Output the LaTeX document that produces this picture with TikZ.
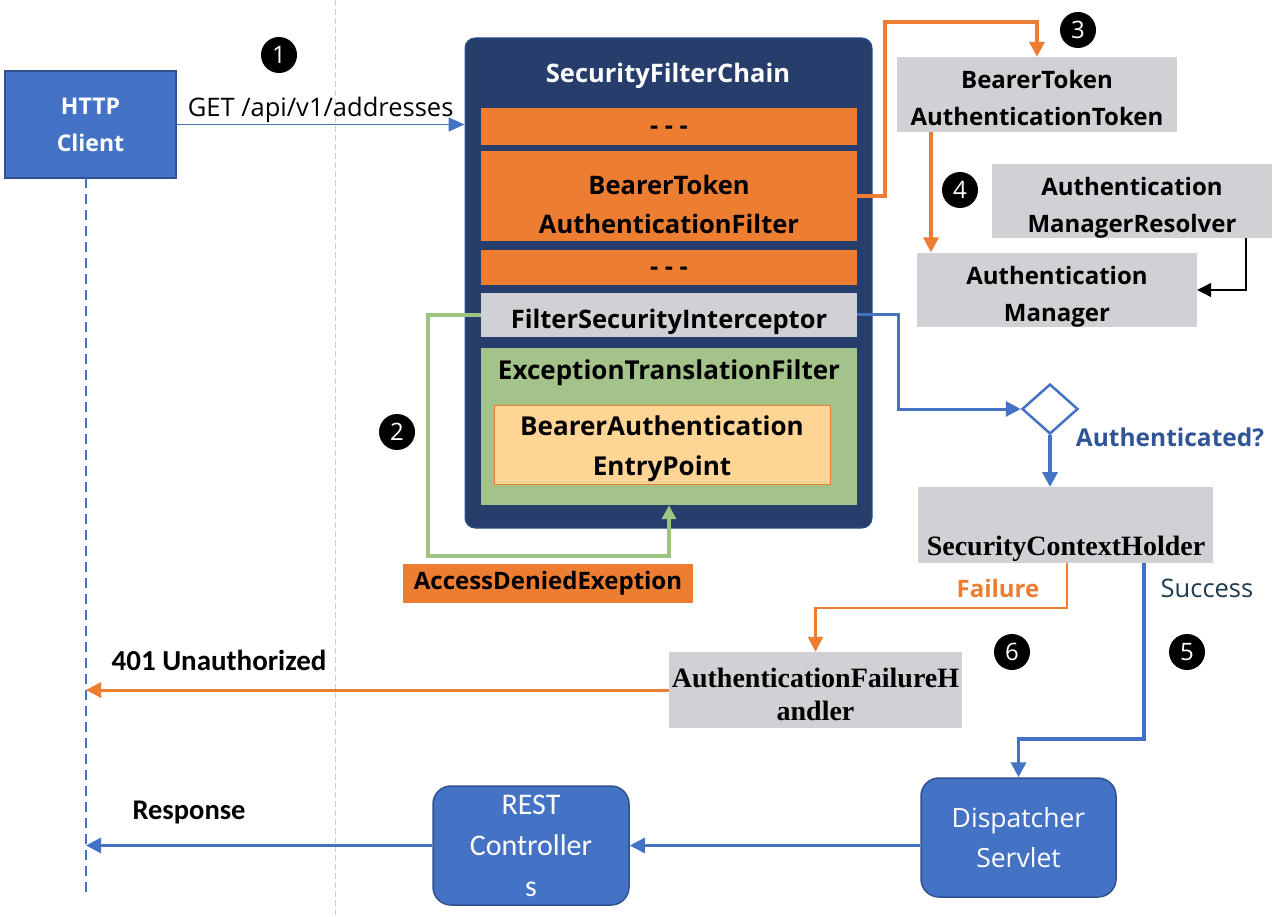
\documentclass[tikz,border=0pt]{standalone}
\usepackage{fontspec}
\setmainfont{Open Sans}
\newfontfamily\serifbold{Liberation Serif}
\newfontfamily\narrowsans{Carlito}
\usetikzlibrary{arrows.meta,shapes.geometric}
\newcommand\setfs[2]{\fontsize{#1}{#2}\selectfont}

\definecolor{clientblue}{HTML}{4472C4}
\definecolor{clientedge}{HTML}{2F528F}
\definecolor{chainnavy}{HTML}{273D6B}
\definecolor{filterorange}{HTML}{ED7D31}
\definecolor{boxgray}{HTML}{D0D0D5}
\definecolor{etfgreen}{HTML}{A3C38B}
\definecolor{loopgreen}{HTML}{9DC483}
\definecolor{entryyellow}{HTML}{FED594}
\definecolor{questionblue}{HTML}{2F5597}
\definecolor{successslate}{HTML}{1F3B4D}
\definecolor{dividergray}{HTML}{CCCCCC}

\tikzset{
    client/.style = {
        draw=clientedge, line width=1.5, fill=clientblue,
        text=white, font=\bfseries\setfs{23}{37},
        align=center, inner sep=0
    },
    servlet/.style = {
        draw=clientedge, line width=1.5, fill=clientblue, rounded corners=18,
        text=white, align=center, inner sep=0
    },
    chain/.style = {
        draw=clientedge, line width=1, fill=chainnavy, rounded corners=10,
        minimum width=407, minimum height=490
    },
    filter/.style = {
        fill=filterorange, minimum width=376, inner sep=0,
        font=\bfseries\setfs{25.5}{39}, align=center
    },
    graybox/.style = {
        fill=boxgray, inner sep=0, align=center,
        font=\bfseries\setfs{24}{37}
    },
    serifbox/.style = {
        font=\serifbold\bfseries\setfs{28}{33}, align=center, inner sep=0
    },
    stepdot/.style = {
        circle, fill=black, minimum size=36, inner sep=0,
        text=white, font=\setfs{24}{24}
    },
    orangeflow/.style = {
        draw=filterorange, line width=3.5,
        -{Triangle[length=15,width=15]}
    },
    blueflow/.style = {
        draw=clientblue, line width=3.5,
        -{Triangle[length=15,width=15]}
    },
    tag/.style = {
        font=\bfseries\setfs{24}{28}
    },
    lowtext/.style = {
        text height=#1
    }
}

\begin{document}
\begin{tikzpicture}[x=1pt,y=-1pt]
    \useasboundingbox (0,0) rectangle (1277,917);

    % client and lifelines
    \draw[dividergray, line width=1, dash pattern=on 6 off 3] (335,0) -- (335,917);
    \node[client, minimum width=171, minimum height=107] (client) at (90.5,124.5) {HTTP\\Client};
    \coordinate (lifetop) at (86,178);
    \coordinate (lifeend) at (86,895);
    \draw[clientblue, line width=1.2, dash pattern=on 10 off 6] (lifetop) -- (lifeend);

    % SecurityFilterChain
    \node[chain] (chain) at (668.5,283) {};
    \node[text=white, font=\bfseries\setfs{25.5}{28}] (chaintitle) at (668,76) {SecurityFilterChain};
    \node[filter, minimum height=37, lowtext=16] (dotsA) at (669,126.5) {- - -};
    \node[filter, minimum height=90, lowtext=75] (bearer) at (669,196) {BearerToken\\AuthenticationFilter};
    \node[filter, minimum height=35, lowtext=16] (dotsB) at (669,267.5) {- - -};
    \node[graybox, font=\bfseries\setfs{25.5}{28}, minimum width=376, minimum height=44, lowtext=33] (fsi) at (669,315) {FilterSecurityInterceptor};
    \node[fill=etfgreen, minimum width=376, minimum height=157, inner sep=0] (etf) at (669,426.5) {};
    \node[tag, font=\bfseries\setfs{26}{28}] (etftitle) at (669,373) {ExceptionTranslationFilter};
    \node[fill=entryyellow, draw=filterorange, line width=1, minimum width=336, minimum height=79,
          inner sep=0, align=center, font=\bfseries\setfs{26}{40}, lowtext=68] (entry) at (662,444.5)
          {BearerAuthentication\\EntryPoint};

    % step 1
    \draw[clientblue, line width=1.5, -{Triangle[length=16,width=14]}] (client.east) -- (client.east -| chain.west)
        node[midway, above=-2, text=black, font=\setfs{25.5}{28}] (getlabel) {GET /api/v1/addresses};

    % step 2
    \coordinate (loopbend) at (428,556);
    \draw[loopgreen, line width=3.5, -{Triangle[length=14,width=14]}] (fsi.west) -| (loopbend) -| (etf.south);
    \node[fill=filterorange, minimum width=290, minimum height=39, inner sep=0, tag] (denied) at (548,583.5) {AccessDeniedExeption};

    % steps 3 and 4
    \node[graybox, minimum width=280, minimum height=75, lowtext=63] (token) at (1037,94.5) {BearerToken\\AuthenticationToken};
    \node[graybox, minimum width=280, minimum height=74, lowtext=68] (resolver) at (1132,201) {Authentication\\ManagerResolver};
    \node[graybox, minimum width=280, minimum height=74, lowtext=69] (manager) at (1057,290) {Authentication\\Manager};
    \coordinate (topbend) at (885,22);
    \draw[orangeflow] (bearer.east) -| (topbend) -| (token.north);
    \draw[orangeflow] ([xshift=-106]token.south) -- ([xshift=-126]manager.north);
    \draw[black, line width=1.2, -{Triangle[length=14,width=14]}] ([xshift=114]resolver.south) |- (manager.east);

    % decision
    \node[diamond, draw=clientblue, line width=2.5, fill=white, minimum width=56, minimum height=50, inner sep=0] (check) at (1050,409) {};
    \node[text=questionblue, tag, font=\bfseries\setfs{24.5}{28}] (checklabel) at (1170,437) {Authenticated?};
    \coordinate (fsibend) at (898,409);
    \draw[blueflow, line width=3] (fsi.east) -| (fsibend) -- (check.west);
    \draw[blueflow] (check.south) -- (check.south |- 0,487);
    \node[fill=boxgray, minimum width=295, minimum height=76, inner sep=0] (holder) at (1065.5,525) {};
    \node[serifbox] (holdertext) at (1066,549) {SecurityContextHolder};

    % steps 5 and 6
    \node[fill=boxgray, serifbox, minimum width=293, minimum height=76, lowtext=62] (handler) at (815.5,690) {AuthenticationFailureH\\andler};
    \coordinate (failbend) at (1067,608);
    \coordinate (succbend) at (1144,739);
    \draw[orangeflow, line width=2.5] (holder.south -| failbend) -- (failbend) -| (handler.north);
    \node[text=filterorange, tag] (failure) at (998,588) {Failure};
    \node[text=successslate, font=\setfs{25.5}{28}] (success) at (1207,588) {Success};
    \node[servlet, minimum width=195, minimum height=119, font=\setfs{26.5}{40}] (dispatcher) at (1018.5,837.5) {Dispatcher\\Servlet};
    \node[servlet, minimum width=196, minimum height=119, font=\narrowsans\setfs{30}{41}] (rest) at (531,845.5) {REST\\Controller\\s};
    \draw[blueflow] (holder.south -| succbend) -- (succbend) -| (dispatcher.north);
    \foreach \n/\x/\y in {1/279/55, 2/397/432, 3/1078/30, 4/960/190, 5/1187/652, 6/1012/652}
        \node[stepdot] (step\n) at (\x,\y) {\n};

    % responses
    \draw[orangeflow, line width=3] (handler.west) -- (handler.west -| lifetop);
    \node[font=\narrowsans\bfseries\setfs{29}{30}] (unauth) at (219,660) {401 Unauthorized};
    \draw[blueflow, line width=2.5] (dispatcher.west |- rest.east) -- (rest.east);
    \draw[blueflow, line width=3] (rest.west) -- (rest.west -| lifetop);
    \node[font=\narrowsans\bfseries\setfs{28.5}{30}] (response) at (189,812) {Response};
\end{tikzpicture}
\end{document}
